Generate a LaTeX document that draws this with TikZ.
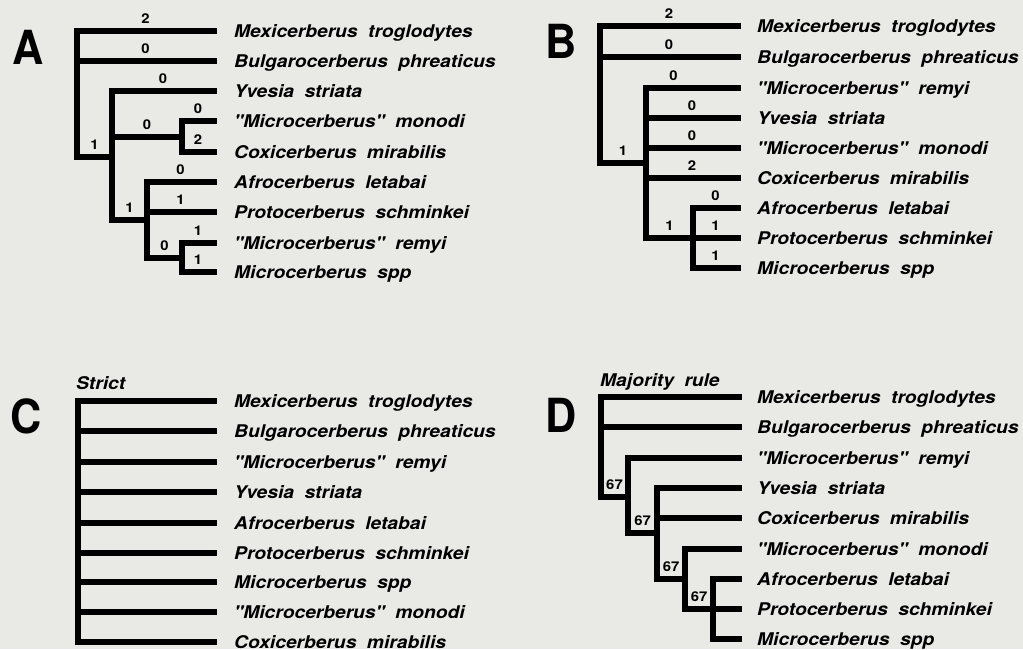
\documentclass[tikz,border=0pt]{standalone}
\usepackage{fontspec}
\usetikzlibrary{positioning}

\newfontfamily\taxfont[FakeStretch=1.1,Ligatures=TeXOff]{TeX Gyre Heros}
\newfontfamily\panelfont[FakeStretch=0.92]{TeX Gyre Heros}
\definecolor{paper}{RGB}{233,233,230}

\tikzset{
  branch/.style={line width=5.5pt, line cap=rect, line join=miter},
  taxon/.style={font={\taxfont\fontsize{17.5}{20}\selectfont\bfseries\itshape\spaceskip 0.6em\relax},
    inner sep=0pt, text height=12.6pt, text depth=0pt},
  brlab/.style={font={\taxfont\fontsize{13.5}{15}\selectfont\bfseries},
    inner sep=0pt, text height=9.6pt, text depth=0pt, above=4.5pt},
  panel/.style={font={\panelfont\fontsize{47}{50}\selectfont\bfseries},
    inner sep=0pt, text height=34pt, text depth=0pt},
  caption/.style={font={\taxfont\fontsize{17.5}{20}\selectfont\bfseries\itshape\spaceskip 0.6em\relax},
    inner sep=0pt, text height=12.4pt, text depth=0pt, anchor=west}
}

\begin{document}
\begin{tikzpicture}[x=1pt,y=-1pt]

\fill[paper] (0,0) rectangle (1023,649);
\useasboundingbox (0,0) rectangle (1023,649);

% A
\node[panel] (labA) at (28,47) {A};
\foreach \k/\y/\name in {mex/31/Mexicerberus troglodytes, bul/61/Bulgarocerberus phreaticus,
    yve/91/Yvesia striata, mon/121/"Microcerberus" monodi, cox/152/Coxicerberus mirabilis,
    afr/182/Afrocerberus letabai, pro/212/Protocerberus schminkei,
    rem/243/"Microcerberus" remyi, spp/272/Microcerberus spp}
{
  \coordinate (A\k) at (214,\y);
  \node[taxon, right=20pt of A\k] (A\k-t) {\name};
}
\coordinate (A0) at (77,157);
\coordinate (A2) at (112,157);
\coordinate (A3) at (182,137);
\coordinate (A4) at (147,220);
\coordinate (A5) at (182,258);

\draw[branch] (A0) |- node[brlab,pos=0.75] {2} (Amex);
\draw[branch] (A0) |- node[brlab,pos=0.75] {0} (Abul);
\draw[branch] (A0) -- node[brlab] {1} (A2);
\draw[branch] (A2) |- node[brlab,pos=0.75] {0} (Ayve);
\draw[branch] (A2) |- node[brlab,pos=0.75] {0} (A3);
\draw[branch] (A2) |- node[brlab,pos=0.75] {1} (A4);
\draw[branch] (A3) |- node[brlab,pos=0.75] {0} (Amon);
\draw[branch] (A3) |- node[brlab,pos=0.75] {2} (Acox);
\draw[branch] (A4) |- node[brlab,pos=0.75] {0} (Aafr);
\draw[branch] (A4) |- node[brlab,pos=0.75] {1} (Apro);
\draw[branch] (A4) |- node[brlab,pos=0.75] {0} (A5);
\draw[branch] (A5) |- node[brlab,pos=0.75] {1} (Arem);
\draw[branch] (A5) |- node[brlab,pos=0.75] {1} (Aspp);

% B
\node[panel] (labB) at (561,41) {B};
\foreach \k/\y/\name in {mex/26/Mexicerberus troglodytes, bul/57/Bulgarocerberus phreaticus,
    rem/88/"Microcerberus" remyi, yve/118/Yvesia striata, mon/148/"Microcerberus" monodi,
    cox/178/Coxicerberus mirabilis, afr/208/Afrocerberus letabai,
    pro/238/Protocerberus schminkei, spp/268/Microcerberus spp}
{
  \coordinate (B\k) at (738,\y);
  \node[taxon, right=19pt of B\k] (B\k-t) {\name};
}
\coordinate (B0) at (600,163);
\coordinate (B2) at (646,163);
\coordinate (B3) at (693,238);

\draw[branch] (B0) |- node[brlab,pos=0.75] {2} (Bmex);
\draw[branch] (B0) |- node[brlab,pos=0.75] {0} (Bbul);
\draw[branch] (B0) -- node[brlab] {1} (B2);
\draw[branch] (B2) |- node[brlab,pos=0.65] {0} (Brem);
\draw[branch] (B2) |- node[brlab,pos=0.75] {0} (Byve);
\draw[branch] (B2) |- node[brlab,pos=0.75] {0} (Bmon);
\draw[branch] (B2) |- node[brlab,pos=0.75] {2} (Bcox);
\draw[branch] (B2) |- node[brlab,pos=0.75] {1} (B3);
\draw[branch] (B3) |- node[brlab,pos=0.75] {0} (Bafr);
\draw[branch] (B3) |- node[brlab,pos=0.75] {1} (Bpro);
\draw[branch] (B3) |- node[brlab,pos=0.75] {1} (Bspp);

% C strict
\node[panel] (labC) at (26,416) {C};
\node[caption] (strict) at (76,383) {Strict};
\coordinate (C0) at (78,642);
\foreach \k/\y/\name in {mex/401/Mexicerberus troglodytes, bul/431/Bulgarocerberus phreaticus,
    rem/462/"Microcerberus" remyi, yve/492/Yvesia striata, afr/523/Afrocerberus letabai,
    pro/553/Protocerberus schminkei, spp/582/Microcerberus spp,
    mon/612/"Microcerberus" monodi, cox/642/Coxicerberus mirabilis}
{
  \coordinate (C\k) at (214,\y);
  \node[taxon, right=20pt of C\k] (C\k-t) {\name};
  \draw[branch] (C0) |- (C\k);
}

% D majority rule
\node[panel] (labD) at (561,415) {D};
\node[caption] (majority) at (600,380) {Majority rule};
\foreach \k/\y/\name in {mex/397/Mexicerberus troglodytes, bul/427/Bulgarocerberus phreaticus,
    rem/458/"Microcerberus" remyi, yve/488/Yvesia striata, cox/518/Coxicerberus mirabilis,
    mon/549/"Microcerberus" monodi, afr/579/Afrocerberus letabai,
    pro/609/Protocerberus schminkei, spp/639/Microcerberus spp}
{
  \coordinate (D\k) at (739,\y);
  \node[taxon, right=18pt of D\k] (D\k-t) {\name};
}
\coordinate (D0) at (601,497);
\coordinate (D2) at (628,497);
\coordinate (D3) at (657,533);
\coordinate (D4) at (685,579);
\coordinate (D5) at (713,609);

\draw[branch] (D0) |- (Dmex);
\draw[branch] (D0) |- (Dbul);
\draw[branch] (D0) -- node[brlab] {67} (D2);
\draw[branch] (D2) |- (Drem);
\draw[branch] (D2) |- node[brlab,pos=0.75] {67} (D3);
\draw[branch] (D3) |- (Dyve);
\draw[branch] (D3) |- (Dcox);
\draw[branch] (D3) |- node[brlab,pos=0.75] {67} (D4);
\draw[branch] (D4) |- (Dmon);
\draw[branch] (D4) |- node[brlab,pos=0.75] {67} (D5);
\draw[branch] (D5) |- (Dafr);
\draw[branch] (D5) |- (Dpro);
\draw[branch] (D5) |- (Dspp);

\end{tikzpicture}
\end{document}
